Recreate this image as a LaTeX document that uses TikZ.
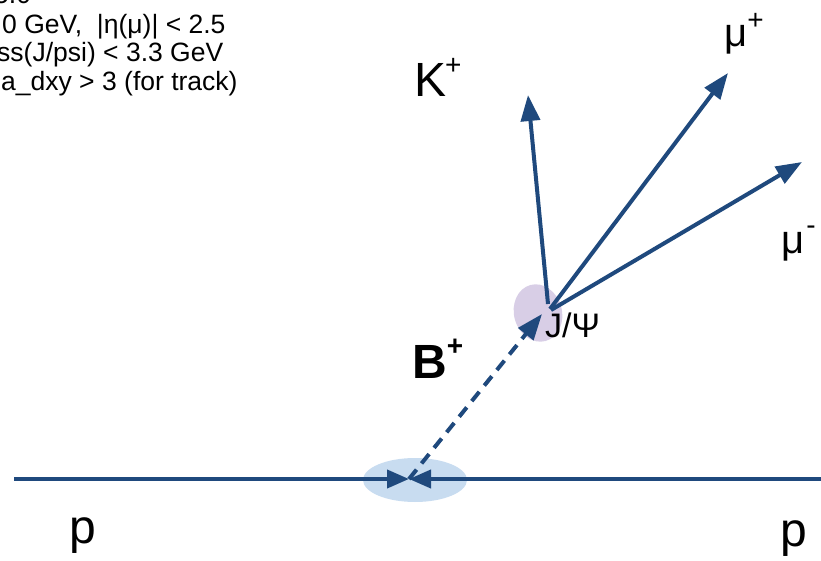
\documentclass[tikz,border=0pt]{standalone}
\usepackage{fontspec}
\setmainfont{Liberation Sans}
\usetikzlibrary{arrows.meta,shapes.geometric}
\definecolor{trackblue}{RGB}{31,73,125}
\definecolor{vtxblue}{RGB}{200,220,240}
\definecolor{vtxpurple}{RGB}{216,206,230}
\newcommand\supsc[2]{\raisebox{#1}{\fontsize{28}{28}\selectfont #2}}
\tikzset{
  track/.style={draw=trackblue, line width=4pt, -{Triangle[length=26pt,width=19pt]}},
  beam/.style={draw=trackblue, line width=4pt, -{Triangle[length=22pt,width=18pt]}},
  btrack/.style={track, dash pattern=on 12pt off 8pt},
  lbl/.style={anchor=base west, inner sep=0pt, text=black},
  cuttext/.style={lbl, font=\fontsize{26.5}{26.5}\selectfont},
  biglbl/.style={lbl, font=\fontsize{48}{48}\selectfont},
}
\begin{document}
\begin{tikzpicture}[x=1pt,y=-1pt]
\useasboundingbox (0,0) rectangle (821,561);
\clip (0,0) rectangle (821,561);
% vertices
\node[ellipse, fill=vtxblue, inner sep=0pt, minimum width=104pt, minimum height=44pt] (pvtx) at (415,480) {};
\node[ellipse, fill=vtxpurple, inner sep=0pt, minimum width=48pt, minimum height=58pt, rotate=15] (jvtx) at (538,313) {};
% coordinates
\coordinate (pl) at (14,479);
\coordinate (pr) at (821,479);
\coordinate (pv) at (409,479);
\coordinate (btip) at (542,314);
\coordinate (jk) at (548,304);
\coordinate (jmp) at (550,309);
\coordinate (jmm) at (551,310);
\coordinate (ktip) at (528,95);
\coordinate (mptip) at (728,73);
\coordinate (mmtip) at (802,162);
% beams
\draw[beam] (pl) -- (pv);
\draw[beam] (pr) -- (pv);
% B+ flight
\draw[btrack] (pv) -- (btip);
% decay products
\draw[track] (jk) -- (ktip);
\draw[track] (jmp) -- (mptip);
\draw[track] (jmm) -- (mmtip);
% labels
\node[biglbl] (klbl) at (414,97) {K\kern-1pt\supsc{22pt}{+}};
\node[biglbl, font=\fontsize{48}{48}\selectfont\bfseries] (blbl) at (412,378) {B\kern0pt\supsc{23pt}{+}};
\node[lbl, font=\fontsize{40}{40}\selectfont] (mplbl) at (724,47) {μ\kern0pt\supsc{17pt}{+}};
\node[lbl, font=\fontsize{40}{40}\selectfont] (mmlbl) at (781,253) {μ\kern2pt\supsc{18pt}{-}};
\node[lbl, font=\fontsize{34}{34}\selectfont] (jlbl) at (545,337) {J/Ψ};
\node[biglbl] (pleft) at (69,543) {p};
\node[biglbl] (pright) at (780,546) {p};
% cut-off text
\node[cuttext] (c0) at (-6,4) {5.0};
\node[cuttext] (c1) at (2,34) {0 GeV,\ \ |η(μ)| < 2.5};
\node[cuttext] (c2) at (-3,62) {ss(J/psi) < 3.3 GeV};
\node[cuttext] (c3) at (1,91) {a\_dxy > 3 (for track)};
\end{tikzpicture}
\end{document}
